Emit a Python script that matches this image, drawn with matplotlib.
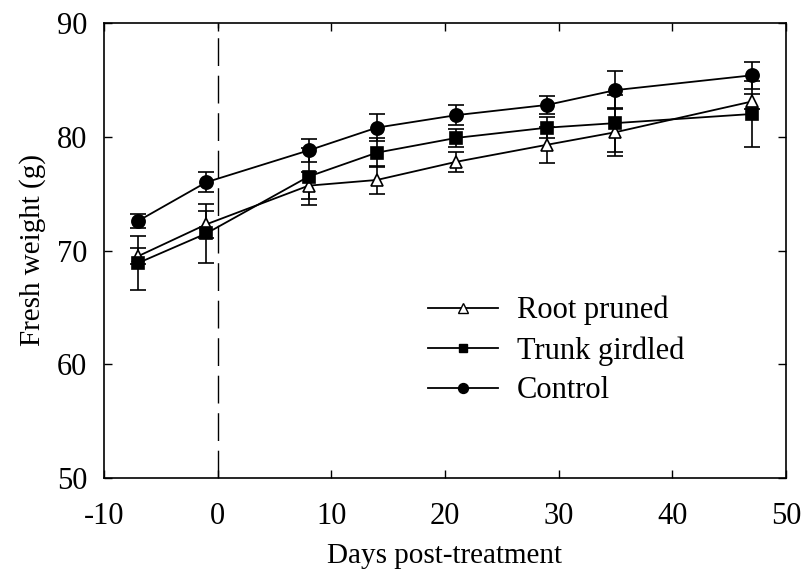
import numpy as np
import matplotlib
matplotlib.use("Agg")
import matplotlib.pyplot as plt

# data (days, g)
days = [-7, -1, 8, 14, 21, 29, 35, 47]
root_pruned = [69.5, 72.3, 75.7, 76.2, 77.8, 79.3, 80.4, 83.1]
root_err = [0.7, 1.2, 1.2, 1.2, 0.9, 1.6, 2.1, 0.7]
trunk_girdled = [68.9, 71.5, 76.5, 78.6, 79.9, 80.8, 81.2, 82.0]
trunk_err = [2.4, 2.6, 2.5, 1.3, 0.8, 0.9, 2.5, 2.9]
control = [72.6, 76.0, 78.8, 80.8, 81.9, 82.8, 84.1, 85.4]
control_err = [0.6, 0.9, 1.0, 1.2, 0.9, 0.8, 1.7, 1.2]

xticks = [-10, 0, 10, 20, 30, 40, 50]
yticks = [50, 60, 70, 80, 90]

plt.rcParams['font.family'] = ['Liberation Serif', 'DejaVu Serif']
plt.rcParams['axes.unicode_minus'] = False

fig = plt.figure(figsize=(8.03, 5.74), dpi=100)
ax = fig.add_axes([104 / 803, 1 - 478 / 574, 682 / 803, 455 / 574])

series = [
    ("Root pruned", root_pruned, root_err, dict(marker='^', mfc='white', ms=9)),
    ("Trunk girdled", trunk_girdled, trunk_err, dict(marker='s', mfc='black', ms=8)),
    ("Control", control, control_err, dict(marker='o', mfc='black', ms=9.5)),
]

handles = []
for name, vals, err, style in series:
    ax.errorbar(days, vals, yerr=err, color='black', ecolor='black', elinewidth=1.2,
                capsize=6, capthick=1.2, lw=1.3, mec='black', mew=1.2,
                label='_nolegend_', **style)
    h, = ax.plot([], [], color='black', lw=1.3, marker=style['marker'],
                 mfc=style['mfc'], mec='black', mew=1.0, ms=style['ms'] * 0.75)
    handles.append((h, name))

ax.axvline(0, color='black', lw=1.0, dashes=(20, 7))

ax.set_xlim(-10, 50)
ax.set_ylim(50, 90)
ax.set_xticks(xticks)
ax.set_yticks(yticks)
ax.tick_params(direction='in', length=6, width=1, top=True, right=True,
               labelsize=22)
ax.tick_params(axis='x', pad=17)
ax.tick_params(axis='y', pad=12)
for s in ax.spines.values():
    s.set_linewidth(1.2)

ax.set_xlabel("Days post-treatment", fontsize=21, labelpad=9)
ax.set_ylabel("Fresh weight (g)", fontsize=21, labelpad=8)

ax.legend([h for h, _ in handles], [n for _, n in handles], loc='center left',
          bbox_to_anchor=(0.435, 0.28), frameon=False, fontsize=22,
          handlelength=2.3, handletextpad=0.6, labelspacing=0.35)

fig.savefig("out.png", dpi=100)
